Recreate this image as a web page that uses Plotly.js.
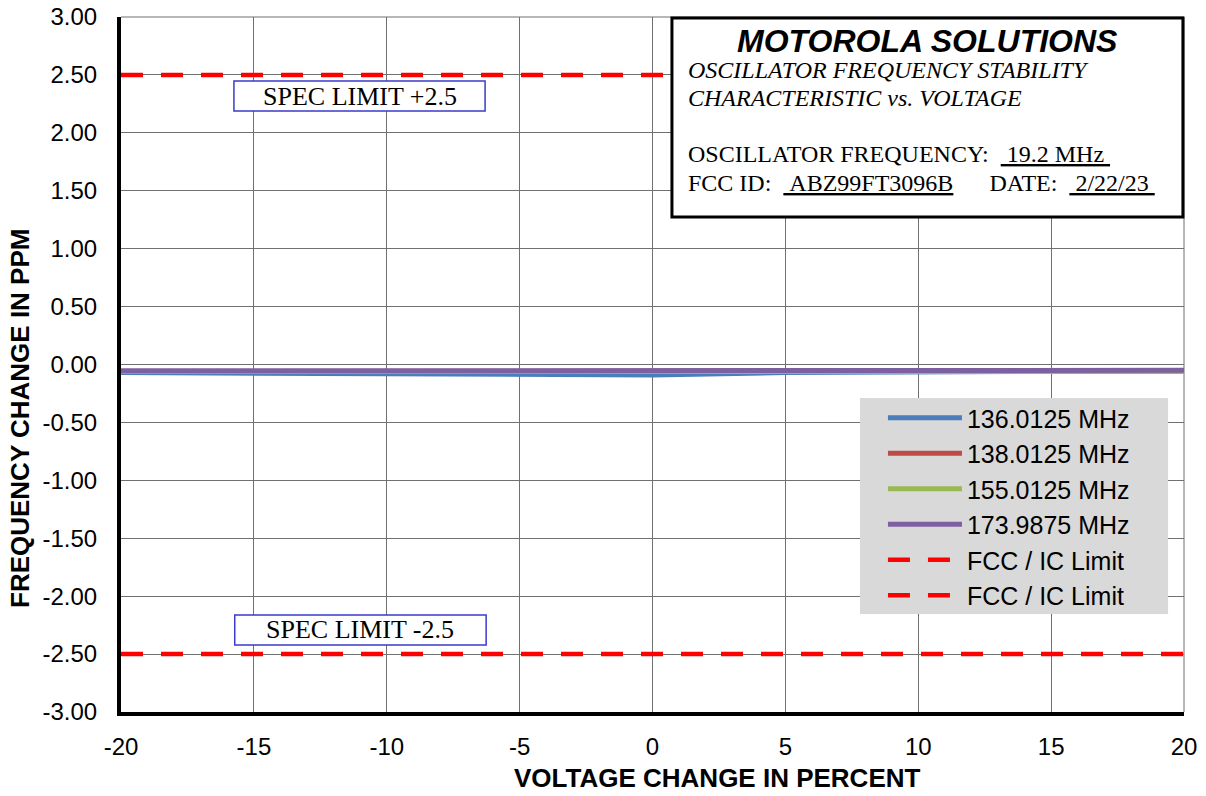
<!DOCTYPE html>
<html>
<head>
<meta charset="utf-8">
<script src="https://cdn.plot.ly/plotly-3.0.1.min.js"></script>
<style>html,body{margin:0;padding:0;background:#fff;}#chart{width:1206px;height:796px;}</style>
</head>
<body>
<div id="chart"></div>
<script>
// ---- data ----
const voltageChange = [-20, -15, -10, -5, 0, 5, 10, 15, 20];
const seriesNames = ["136.0125 MHz", "138.0125 MHz", "155.0125 MHz", "173.9875 MHz"];
const f136 = [-0.07, -0.075, -0.075, -0.075, -0.09, -0.07, -0.06, -0.06, -0.055];
const f138 = [-0.06, -0.06, -0.06, -0.06, -0.065, -0.065, -0.06, -0.06, -0.055];
const f155 = [-0.06, -0.06, -0.06, -0.06, -0.06, -0.06, -0.062, -0.062, -0.06];
const f174 = [-0.055, -0.055, -0.055, -0.055, -0.055, -0.055, -0.055, -0.055, -0.05];
const limitX = [-20, 20];
const upperLimit = [2.5, 2.5];
const lowerLimit = [-2.5, -2.5];
const limitName = "FCC / IC Limit";
const yTicks = [3, 2.5, 2, 1.5, 1, 0.5, 0, -0.5, -1, -1.5, -2, -2.5, -3];
const xTicks = [-20, -15, -10, -5, 0, 5, 10, 15, 20];
const xTitle = "VOLTAGE CHANGE IN PERCENT";
const yTitle = "FREQUENCY CHANGE IN PPM";

const colors = ["#4a7ebb", "#be4b48", "#98b954", "#7d60a0"];
const series = [f136, f138, f155, f174];

const traces = series.map((ys, i) => ({
  x: voltageChange, y: ys, name: seriesNames[i], type: "scatter", mode: "lines",
  line: {color: colors[i], width: 5}
}));
traces.push({x: limitX, y: upperLimit, name: limitName, type: "scatter", mode: "lines",
  line: {color: "#ff0000", width: 4.5, dash: "22px,18px"}});
traces.push({x: limitX, y: lowerLimit, name: limitName, type: "scatter", mode: "lines",
  line: {color: "#ff0000", width: 4.5, dash: "22px,18px"}});

const serif = "Liberation Serif, Times New Roman, serif";
const sans = "Liberation Sans, Arial, sans-serif";

const layout = {
  width: 1206, height: 796,
  margin: {l: 121, r: 22, t: 17, b: 84},
  paper_bgcolor: "#ffffff", plot_bgcolor: "#ffffff",
  showlegend: true,
  legend: {x: 0.7168, y: 0.4561, xanchor: "left", yanchor: "top", bgcolor: "rgba(0,0,0,0)",
    itemwidth: 74,
    font: {family: sans, size: 25, color: "#000"}, borderwidth: 0},
  xaxis: {
    range: [-20, 20], tickvals: xTicks, ticktext: xTicks.map(String),
    showgrid: true, gridcolor: "#707070", gridwidth: 1, zeroline: false,
    showline: true, linecolor: "#000", linewidth: 4, ticks: "", ticklabelstandoff: 10,
    tickfont: {family: sans, size: 24, color: "#000"}
  },
  yaxis: {
    range: [-3, 3], tickvals: yTicks, ticktext: yTicks.map(v => v.toFixed(2)),
    showgrid: true, gridcolor: "#707070", gridwidth: 1, zeroline: false,
    showline: true, linecolor: "#000", linewidth: 4, ticks: "", ticklabelstandoff: 15,
    tickfont: {family: sans, size: 24, color: "#000"}
  },
  shapes: [
    {type: "line", xref: "paper", yref: "paper", x0: 0, x1: 1, y0: 1, y1: 1, line: {color: "#707070", width: 1}, layer: "below"},
    {type: "line", xref: "paper", yref: "paper", x0: 1, x1: 1, y0: 0, y1: 1, line: {color: "#707070", width: 1}, layer: "below"},
    {type: "rect", xref: "paper", yref: "paper", x0: 0.6952, x1: 0.9850, y0: 0.1410, y1: 0.4518,
      fillcolor: "#d9d9d9", line: {width: 0}, layer: "above"},
    {type: "rect", xref: "paper", yref: "paper", x0: 0.5183, x1: 0.999, y0: 0.7122, y1: 0.9986,
      fillcolor: "#ffffff", line: {color: "#000", width: 3}, layer: "above"},
    {type: "rect", xref: "x", yref: "y", x0: -15.75, x1: -6.3, y0: 2.188, y1: 2.447,
      fillcolor: "#ffffff", line: {color: "#3a3acc", width: 1.5}, layer: "above"},
    {type: "rect", xref: "x", yref: "y", x0: -15.72, x1: -6.26, y0: -2.422, y1: -2.163,
      fillcolor: "#ffffff", line: {color: "#3a3acc", width: 1.5}, layer: "above"}
  ],
  annotations: [
    {xref: "paper", yref: "paper", x: 0.5607, y: -0.0950, xanchor: "center", yanchor: "middle", showarrow: false,
      text: "<b>" + xTitle + "</b>", font: {family: sans, size: 26, color: "#000"}},
    {xref: "paper", yref: "paper", x: -0.0950, y: 0.4216, xanchor: "center", yanchor: "middle", showarrow: false, textangle: -90,
      text: "<b>" + yTitle + "</b>", font: {family: sans, size: 26, color: "#000"}},
    {xref: "paper", yref: "paper", x: 0.759, y: 0.9650, xanchor: "center", yanchor: "middle", showarrow: false,
      text: "<b><i>MOTOROLA SOLUTIONS</i></b>", font: {family: sans, size: 32, color: "#000"}},
    {xref: "paper", yref: "paper", x: 0.5315, y: 0.9237, xanchor: "left", yanchor: "middle", showarrow: false,
      text: "<i>OSCILLATOR FREQUENCY STABILITY</i>", font: {family: serif, size: 24, color: "#000"}},
    {xref: "paper", yref: "paper", x: 0.5315, y: 0.8835, xanchor: "left", yanchor: "middle", showarrow: false,
      text: "<i>CHARACTERISTIC vs. VOLTAGE</i>", font: {family: serif, size: 24, color: "#000"}},
    {xref: "paper", yref: "paper", x: 0.5315, y: 0.8029, xanchor: "left", yanchor: "middle", showarrow: false,
      text: "OSCILLATOR FREQUENCY:  <u>\u00a019.2 MHz\u00a0</u>", font: {family: serif, size: 24, color: "#000"}},
    {xref: "paper", yref: "paper", x: 0.5315, y: 0.7612, xanchor: "left", yanchor: "middle", showarrow: false,
      text: "FCC ID:  <u>\u00a0ABZ99FT3096B</u>\u00a0\u00a0\u00a0\u00a0\u00a0\u00a0DATE:  <u>\u00a02/22/23\u00a0</u>", font: {family: serif, size: 24, color: "#000"}},
    {xref: "x", yref: "y", x: -11.0, y: 2.315, xanchor: "center", yanchor: "middle", showarrow: false,
      text: "SPEC LIMIT +2.5", font: {family: serif, size: 26, color: "#000"}},
    {xref: "x", yref: "y", x: -11.0, y: -2.29, xanchor: "center", yanchor: "middle", showarrow: false,
      text: "SPEC LIMIT -2.5", font: {family: serif, size: 26, color: "#000"}}
  ]
};

Plotly.newPlot("chart", traces, layout, {displayModeBar: false, staticPlot: true});
</script>
</body>
</html>
